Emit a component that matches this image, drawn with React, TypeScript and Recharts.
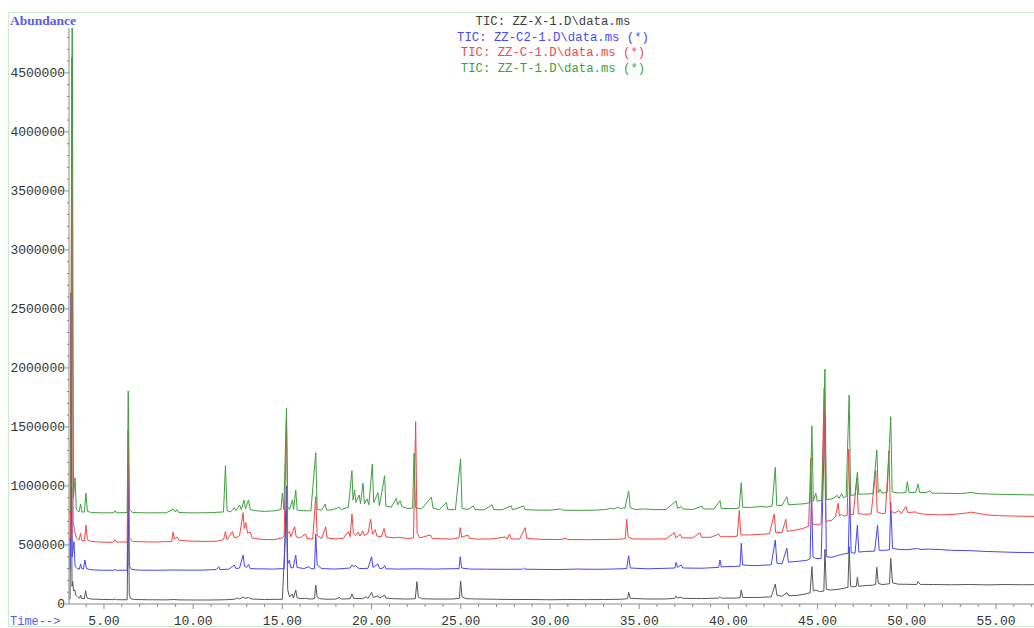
import React from "react";
import { LineChart, Line, XAxis, YAxis } from "recharts";

// abundance values are in thousands (500 = 500000)
const ticX = [
  [3.04, 40], [3.1, 45], [3.16, 1500], [3.21, 150], [3.25, 190], [3.3, 110], [3.36, 120], [3.42, 75], [3.55, 55],
  [3.64, 50], [3.69, 76], [3.75, 48], [3.9, 45], [3.97, 113], [4.05, 50], [4.3, 42], [4.6, 40], [5.0, 38], [5.5, 37],
  [5.62, 42], [5.7, 37], [6.0, 36], [6.3, 36], [6.36, 900], [6.42, 80], [6.5, 45], [6.7, 38], [7.5, 36], [8.5, 35],
  [8.9, 38], [9.2, 35], [10.0, 34], [11.0, 34], [11.8, 36], [12.3, 40], [12.5, 52], [12.6, 42], [12.8, 60], [12.9, 48],
  [13.1, 55], [13.3, 42], [14.0, 38], [15.0, 40], [15.23, 800], [15.3, 120], [15.4, 60], [15.56, 85], [15.62, 50],
  [15.75, 119], [15.82, 55], [16.0, 45], [16.3, 48], [16.5, 42], [16.8, 45], [16.87, 161], [16.95, 60], [17.1, 45],
  [17.5, 40], [18.0, 42], [18.2, 55], [18.3, 42], [18.8, 45], [18.9, 85], [19.0, 48], [19.5, 45], [19.7, 62], [19.8, 48],
  [20.0, 99], [20.1, 55], [20.36, 70], [20.45, 50], [20.73, 76], [20.8, 50], [21.2, 45], [22.0, 42], [22.45, 45],
  [22.54, 189], [22.62, 60], [22.8, 45], [23.5, 42], [24.5, 42], [24.92, 48], [24.99, 195], [25.07, 60], [25.3, 45],
  [26.0, 42], [27.0, 40], [28.0, 38], [29.0, 38], [30.0, 36], [31.0, 38], [32.0, 37], [33.0, 38], [34.0, 40],
  [34.35, 45], [34.41, 99], [34.5, 48], [35.5, 42], [36.5, 43], [37.0, 48], [37.07, 68], [37.15, 50], [37.35, 58],
  [37.45, 48], [38.5, 46], [39.45, 50], [39.53, 62], [39.6, 50], [40.3, 50], [40.65, 52], [40.72, 119], [40.8, 55],
  [41.5, 55], [42.4, 60], [42.63, 169], [42.72, 75], [43.0, 65], [43.28, 96], [43.38, 70], [43.8, 72], [44.3, 85],
  [44.58, 95], [44.68, 316], [44.76, 110], [44.9, 118], [45.1, 105], [45.35, 110], [45.41, 463], [45.49, 125],
  [45.7, 118], [46.2, 125], [46.5, 135], [46.7, 140], [46.77, 486], [46.85, 150], [47.0, 145], [47.17, 150], [47.23, 226],
  [47.3, 150], [47.6, 155], [48.1, 160], [48.25, 165], [48.32, 311], [48.4, 175], [48.6, 165], [48.85, 168], [49.03, 172],
  [49.1, 387], [49.2, 180], [49.5, 168], [50.0, 167], [50.55, 165], [50.63, 190], [50.75, 166], [51.5, 165],
  [52.5, 163], [53.5, 165], [54.5, 162], [55.5, 165], [56.5, 163], [57.13, 164],
];

const ticC2 = [
  [3.04, 290], [3.1, 300], [3.15, 2636], [3.22, 400], [3.32, 528], [3.38, 320], [3.5, 300], [3.62, 295], [3.69, 339],
  [3.75, 300], [3.85, 295], [3.93, 373], [4.02, 300], [4.2, 292], [4.5, 288], [5.0, 286], [5.55, 286], [5.62, 292],
  [5.7, 286], [6.3, 286], [6.36, 1180], [6.42, 320], [6.55, 292], [7.0, 287], [8.0, 286], [8.9, 288], [9.5, 287],
  [10.5, 287], [11.3, 292], [11.44, 316], [11.5, 292], [12.0, 295], [12.3, 330], [12.4, 300], [12.6, 305], [12.8, 415],
  [12.88, 320], [13.0, 310], [13.1, 335], [13.2, 300], [13.6, 298], [14.5, 296], [15.1, 300], [15.23, 1000], [15.3, 340],
  [15.4, 373], [15.46, 310], [15.6, 305], [15.75, 415], [15.82, 310], [16.2, 300], [16.5, 316], [16.6, 298], [16.8, 300],
  [16.87, 593], [16.95, 330], [17.2, 300], [18.0, 296], [18.8, 305], [18.9, 330], [19.0, 318], [19.1, 325], [19.3, 300],
  [19.8, 302], [20.0, 401], [20.08, 310], [20.36, 339], [20.45, 300], [20.65, 305], [20.73, 325], [20.8, 298],
  [21.5, 296], [22.5, 298], [23.5, 296], [24.9, 300], [24.97, 401], [25.05, 305], [25.5, 296], [26.5, 295], [27.5, 294],
  [28.45, 295], [28.52, 305], [28.6, 295], [29.5, 293], [30.5, 292], [31.5, 296], [32.5, 294], [33.5, 296], [34.3, 300],
  [34.41, 409], [34.5, 305], [35.5, 298], [37.0, 305], [37.07, 353], [37.15, 310], [37.35, 330], [37.45, 305],
  [38.5, 303], [39.45, 310], [39.53, 373], [39.6, 315], [40.2, 318], [40.65, 320], [40.72, 514], [40.8, 330],
  [41.5, 325], [42.4, 332], [42.63, 542], [42.72, 345], [43.0, 340], [43.28, 472], [43.36, 355], [43.8, 360],
  [44.4, 370], [44.58, 385], [44.66, 943], [44.74, 400], [44.9, 385], [45.2, 385], [45.41, 1587], [45.49, 400],
  [45.8, 395], [46.1, 410], [46.35, 420], [46.5, 425], [46.72, 430], [46.8, 932], [46.88, 435], [47.1, 430], [47.23, 669],
  [47.31, 440], [47.7, 445], [48.2, 448], [48.36, 669], [48.45, 455], [48.8, 455], [49.03, 460], [49.1, 862], [49.2, 470],
  [49.6, 462], [50.0, 460], [50.6, 470], [50.8, 462], [51.2, 465], [51.8, 462], [52.5, 455], [53.5, 452], [54.5, 445],
  [55.5, 440], [56.5, 436], [57.13, 435],
];

const ticC = [
  [3.04, 540], [3.12, 560], [3.2, 4627], [3.27, 700], [3.35, 620], [3.45, 560], [3.6, 540], [3.69, 601], [3.75, 540],
  [3.9, 535], [3.99, 669], [4.07, 545], [4.3, 530], [4.8, 525], [5.5, 522], [5.62, 545], [5.7, 525], [6.3, 525],
  [6.36, 1475], [6.43, 560], [6.6, 530], [7.0, 528], [7.8, 525], [8.5, 528], [8.8, 530], [8.87, 610], [8.95, 550],
  [9.1, 568], [9.2, 540], [9.6, 535], [10.5, 530], [11.3, 532], [11.7, 545], [11.81, 613], [11.9, 545], [12.2, 613],
  [12.3, 560], [12.5, 570], [12.6, 580], [12.8, 774], [12.86, 640], [12.95, 690], [13.05, 600], [13.2, 610], [13.3, 560],
  [13.8, 548], [14.5, 545], [15.0, 560], [15.1, 580], [15.23, 1560], [15.3, 600], [15.4, 613], [15.48, 570], [15.69, 655],
  [15.77, 570], [16.0, 560], [16.3, 593], [16.38, 555], [16.7, 550], [16.87, 909], [16.95, 580], [17.2, 555],
  [17.43, 655], [17.5, 560], [18.0, 552], [18.4, 555], [18.7, 613], [18.8, 570], [18.9, 763], [18.98, 600], [19.1, 580],
  [19.25, 610], [19.35, 575], [19.5, 620], [19.6, 580], [19.8, 600], [19.95, 718], [20.05, 590], [20.2, 630],
  [20.3, 575], [20.55, 570], [20.7, 641], [20.8, 570], [21.2, 560], [21.5, 565], [22.0, 555], [22.35, 560],
  [22.47, 1545], [22.55, 600], [22.7, 560], [23.3, 585], [23.4, 555], [24.0, 552], [24.5, 550], [24.9, 560],
  [24.97, 647], [25.05, 565], [25.4, 585], [25.5, 555], [26.0, 550], [26.8, 552], [27.5, 568], [27.6, 550],
  [27.73, 593], [27.82, 552], [28.3, 550], [28.61, 647], [28.7, 555], [29.5, 548], [30.5, 546], [30.9, 556],
  [31.0, 546], [32.0, 545], [33.0, 546], [34.0, 550], [34.22, 555], [34.3, 720], [34.38, 570], [34.6, 552], [35.5, 550],
  [36.5, 552], [36.97, 604], [37.05, 560], [37.3, 590], [37.4, 560], [38.0, 560], [38.41, 604], [38.5, 565], [39.0, 565],
  [39.35, 585], [39.45, 595], [39.55, 570], [40.2, 570], [40.5, 575], [40.61, 791], [40.7, 585], [41.2, 585],
  [41.8, 590], [42.3, 595], [42.57, 763], [42.65, 605], [43.0, 605], [43.22, 718], [43.3, 615], [43.7, 625],
  [44.2, 640], [44.5, 660], [44.62, 1235], [44.7, 680], [45.0, 670], [45.2, 680], [45.37, 1828], [45.45, 700],
  [45.8, 710], [46.0, 740], [46.15, 853], [46.22, 745], [46.35, 760], [46.45, 745], [46.66, 750], [46.74, 1311],
  [46.82, 760], [47.0, 755], [47.2, 1065], [47.28, 765], [47.6, 760], [48.0, 762], [48.26, 1130], [48.34, 780],
  [48.6, 765], [48.8, 770], [49.0, 1299], [49.08, 790], [49.3, 770], [49.55, 790], [49.7, 768], [49.95, 825],
  [50.05, 775], [50.5, 780], [50.6, 770], [51.0, 760], [51.5, 758], [52.0, 755], [52.7, 760], [53.3, 770], [53.6, 778],
  [54.0, 768], [54.5, 755], [55.2, 748], [56.0, 745], [57.13, 742],
];

const ticT = [
  [3.04, 770], [3.14, 800], [3.22, 5300], [3.29, 900], [3.38, 1070], [3.45, 800], [3.6, 780], [3.69, 847], [3.76, 780],
  [3.9, 778], [3.99, 940], [4.07, 785], [4.3, 775], [5.0, 772], [5.55, 773], [5.62, 790], [5.7, 772], [6.3, 775],
  [6.36, 1805], [6.43, 800], [6.6, 775], [7.5, 772], [8.5, 773], [8.9, 805], [9.0, 780], [9.1, 800], [9.2, 775],
  [10.0, 772], [11.0, 774], [11.7, 780], [11.81, 1172], [11.9, 790], [12.1, 780], [12.3, 816], [12.4, 790], [12.6, 839],
  [12.7, 800], [12.85, 881], [12.93, 805], [13.1, 881], [13.2, 800], [13.5, 790], [14.0, 785], [14.6, 790], [14.92, 800],
  [15.0, 940], [15.08, 800], [15.23, 1658], [15.3, 820], [15.4, 800], [15.56, 881], [15.63, 800], [15.75, 966],
  [15.83, 795], [16.2, 790], [16.6, 790], [16.87, 1282], [16.95, 800], [17.2, 795], [17.4, 847], [17.48, 795],
  [17.8, 798], [18.2, 820], [18.3, 800], [18.7, 820], [18.9, 1130], [18.96, 880], [19.05, 966], [19.12, 860],
  [19.3, 924], [19.38, 850], [19.52, 1023], [19.6, 850], [19.75, 890], [19.85, 840], [20.04, 1184], [20.12, 860],
  [20.36, 943], [20.44, 830], [20.73, 1087], [20.8, 830], [21.1, 820], [21.39, 896], [21.46, 840], [21.6, 875],
  [21.7, 825], [22.0, 810], [22.3, 812], [22.38, 1277], [22.46, 815], [22.8, 805], [23.35, 904], [23.45, 810],
  [23.8, 800], [24.19, 859], [24.27, 800], [24.7, 800], [24.99, 1229], [25.07, 810], [25.4, 800], [25.7, 830],
  [25.8, 800], [26.3, 798], [26.76, 840], [26.84, 800], [27.3, 798], [27.83, 830], [27.9, 798], [28.52, 830],
  [28.6, 800], [29.3, 795], [30.0, 795], [30.6, 805], [30.7, 795], [31.5, 793], [32.5, 795], [33.1, 800], [33.4, 810],
  [33.6, 805], [33.8, 820], [33.95, 808], [34.1, 815], [34.2, 810], [34.41, 958], [34.5, 815], [34.8, 800], [35.3, 805],
  [35.8, 800], [36.5, 800], [37.07, 873], [37.15, 810], [37.35, 825], [37.45, 805], [38.0, 800], [38.52, 830],
  [38.6, 805], [39.2, 805], [39.53, 876], [39.6, 810], [40.2, 808], [40.6, 812], [40.72, 1028], [40.8, 820],
  [41.3, 818], [41.7, 825], [42.2, 822], [42.45, 830], [42.63, 1158], [42.71, 835], [43.0, 835], [43.28, 909],
  [43.36, 840], [43.8, 845], [44.3, 850], [44.58, 860], [44.68, 1508], [44.76, 870], [44.9, 938], [44.98, 870],
  [45.25, 880], [45.41, 1989], [45.49, 885], [45.8, 890], [46.1, 920], [46.2, 895], [46.35, 935], [46.45, 900],
  [46.6, 910], [46.77, 1771], [46.85, 920], [47.1, 925], [47.23, 1116], [47.31, 930], [47.7, 932], [48.1, 935],
  [48.32, 1305], [48.4, 940], [48.5, 970], [48.6, 940], [48.9, 945], [49.1, 1587], [49.18, 950], [49.5, 940],
  [49.95, 945], [50.03, 1037], [50.12, 945], [50.5, 945], [50.63, 1017], [50.72, 945], [51.1, 945], [51.3, 960],
  [51.4, 940], [52.0, 938], [53.0, 935], [53.6, 945], [54.0, 935], [55.0, 930], [56.0, 927], [57.13, 924],
];

const xTicks = [4, 5, 6, 7, 8, 9, 10, 11, 12, 13, 14, 15, 16, 17, 18, 19, 20, 21, 22, 23, 24, 25, 26, 27, 28, 29, 30, 31, 32, 33, 34, 35, 36, 37, 38, 39, 40, 41, 42, 43, 44, 45, 46, 47, 48, 49, 50, 51, 52, 53, 54, 55, 56, 57];
const xLabels = [5, 10, 15, 20, 25, 30, 35, 40, 45, 50, 55];
const yTicks = Array.from({ length: 49 }, (_, i) => i * 100);
const yLabels = [0, 500, 1000, 1500, 2000, 2500, 3000, 3500, 4000, 4500];

const legend = [
  { text: "TIC: ZZ-X-1.D\\data.ms", color: "#3c3c3c" },
  { text: "TIC: ZZ-C2-1.D\\data.ms (*)", color: "#4a4af2" },
  { text: "TIC: ZZ-C-1.D\\data.ms (*)", color: "#f04a4a" },
  { text: "TIC: ZZ-T-1.D\\data.ms (*)", color: "#3f9f3f" },
];

const toRows = (arr: number[][]) => arr.map(([t, v]) => ({ t, v }));

const MONO = "'Liberation Mono', 'DejaVu Sans Mono', monospace";
const AXIS = "#8a8a8a";

const XTick = (props: any) => {
  const { x, y, payload } = props;
  const major = xLabels.includes(payload.value);
  return (
    <g>
      <line x1={x} y1={y} x2={x} y2={y + (major ? 5 : 3)} stroke={AXIS} />
      {major && (
        <text x={x} y={y + 21} textAnchor="middle" fontFamily={MONO} fontSize={13} fill="#333">
          {payload.value.toFixed(2)}
        </text>
      )}
    </g>
  );
};

const YTick = (props: any) => {
  const { x, y, payload } = props;
  const major = yLabels.includes(payload.value);
  return (
    <g>
      <line x1={x} y1={y} x2={x - (major ? 4 : 2)} y2={y} stroke={AXIS} />
      {major && (
        <text x={x - 4} y={y + 4} textAnchor="end" fontFamily={MONO} fontSize={13} fill="#333">
          {String(payload.value * 1000)}
        </text>
      )}
    </g>
  );
};

export default function App() {
  return (
    <div style={{ position: "absolute", left: 0, top: 0, width: 1034, height: 628, background: "#fff" }}>
      <LineChart width={1034} height={628} margin={{ top: 28, right: 0, bottom: 0, left: 0 }}>
        <XAxis
          dataKey="t"
          type="number"
          domain={[3.04, 57.13]}
          allowDataOverflow
          ticks={xTicks}
          interval={0}
          height={24}
          tickSize={0}
          tickMargin={0}
          tickLine={false}
          stroke={AXIS}
          tick={<XTick />}
        />
        <YAxis
          dataKey="v"
          type="number"
          domain={[0, 4880]}
          allowDataOverflow
          ticks={yTicks}
          interval={0}
          width={69}
          tickSize={0}
          tickMargin={0}
          tickLine={false}
          stroke={AXIS}
          tick={<YTick />}
        />
        <Line data={toRows(ticX)} dataKey="v" type="linear" stroke="#575757" strokeWidth={1} dot={false} isAnimationActive={false} />
        <Line data={toRows(ticC2)} dataKey="v" type="linear" stroke="#4646f0" strokeWidth={1} dot={false} isAnimationActive={false} />
        <Line data={toRows(ticC)} dataKey="v" type="linear" stroke="#f24646" strokeWidth={1} dot={false} isAnimationActive={false} />
        <Line data={toRows(ticT)} dataKey="v" type="linear" stroke="#3f9f3f" strokeWidth={1} dot={false} isAnimationActive={false} />
      </LineChart>
      <svg width={1034} height={628} style={{ position: "absolute", left: 0, top: 0, pointerEvents: "none" }}>
        <rect x={8.5} y={12.5} width={1040} height={614} fill="none" stroke="#c8efc8" />
        <text x={10} y={25} fontFamily="'Liberation Serif', serif" fontWeight="bold" fontSize={13.5} fill="#5a5ae6">
          Abundance
        </text>
        <text x={10} y={625} fontFamily={MONO} fontSize={12} fill="#5a5ae6">
          Time--&gt;
        </text>
        {legend.map((l, i) => (
          <text key={l.text} x={553} y={25 + i * 15.5} textAnchor="middle" fontFamily={MONO} fontSize={12.3} fill={l.color}>
            {l.text}
          </text>
        ))}
      </svg>
    </div>
  );
}
